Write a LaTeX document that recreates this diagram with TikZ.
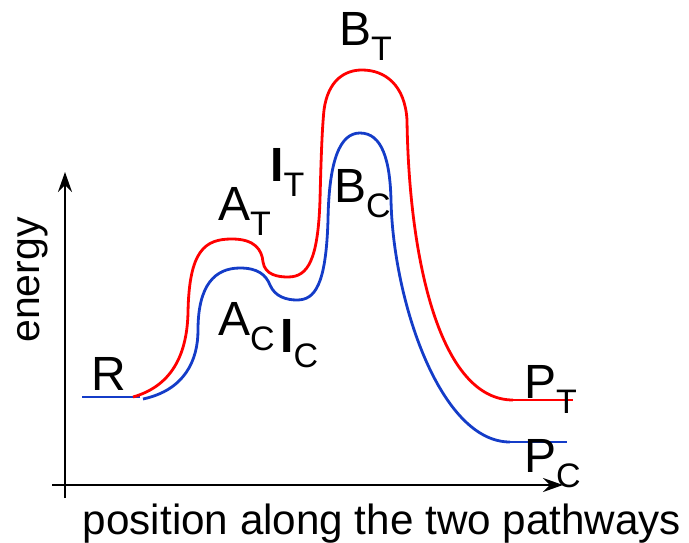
\documentclass[tikz,border=0pt]{standalone}
\usepackage{fontspec}
\setmainfont{Liberation Sans}
\usetikzlibrary{arrows.meta}
\definecolor{pathred}{RGB}{255,0,0}
\definecolor{pathblue}{RGB}{20,60,200}
\newcommand{\sublab}[2]{#1\raisebox{-15pt}{\fontsize{34}{34}\selectfont #2}}

\begin{document}
\begin{tikzpicture}[x=1pt,y=-1pt,
  trans/.style={draw=pathred,line width=2.8pt},
  cis/.style={draw=pathblue,line width=2.8pt},
  axis/.style={draw=black,line width=2.6pt,-{Stealth[length=20pt,width=14pt,inset=7pt]}},
  lab/.style={anchor=base west,inner sep=0pt,font=\fontsize{48}{48}\selectfont}]
  \useasboundingbox (0,0) rectangle (689,543);
  % axes
  \coordinate (ybot) at (65,498);
  \coordinate (ytop) at (65,172);
  \coordinate (xleft) at (52,485);
  \coordinate (xright) at (563,485);
  \draw[axis] (ybot) -- (ytop);
  \draw[axis] (xleft) -- (xright);
  \node[rotate=90,inner sep=0pt,font=\fontsize{41}{41}\selectfont] (ylab) at (33,280) {energy};
  \node[anchor=base,inner sep=0pt,font=\fontsize{42.2}{42.2}\selectfont] (xlab) at (382,534.5) {position along the two pathways};
  % cis pathway (blue)
  \draw[cis] (82,397) -- (140,397);
  \draw[cis] (143,399) .. controls (185,390) and (198,360) .. (198,330)
    .. controls (198,285) and (215,268) .. (240,268)
    .. controls (258,268) and (266,275) .. (270,285)
    .. controls (275,297) and (287,300) .. (297,300)
    .. controls (315,300) and (326,285) .. (328,220)
    .. controls (329,160) and (340,133) .. (360,133)
    .. controls (382,133) and (390,160) .. (391,200)
    .. controls (393,300) and (440,442) .. (510,442);
  \draw[cis] (510,442) -- (567,442);
  % trans pathway (red)
  \draw[trans] (133,397) .. controls (175,385) and (187,350) .. (188,313)
    .. controls (189,250) and (205,239) .. (232,239)
    .. controls (255,239) and (262,250) .. (263,262)
    .. controls (265,275) and (278,277) .. (288,277)
    .. controls (308,277) and (318,260) .. (320,200)
    .. controls (321,160) and (322,130) .. (324,110)
    .. controls (328,80) and (345,70) .. (362,70)
    .. controls (385,70) and (405,85) .. (407,120)
    .. controls (409,260) and (440,400) .. (513,400);
  \draw[trans] (513,400) -- (573,400);
  % labels
  \node[lab] (R) at (91,390) {R};
  \node[lab] (AT) at (218,220) {\sublab{A}{T}};
  \node[lab] (IT) at (270,182) {\sublab{\textbf{I}}{T}};
  \node[lab] (AC) at (218,335) {\sublab{A}{C}};
  \node[lab] (IC) at (280,352) {\sublab{\textbf{I}}{C}};
  \node[lab] (BT) at (339,46) {\sublab{B}{T}};
  \node[lab] (BC) at (334,202) {\sublab{B}{C}};
  \node[lab] (PT) at (524,398) {\sublab{P}{T}};
  \node[lab] (PC) at (524,472) {\sublab{P}{C}};
\end{tikzpicture}
\end{document}
